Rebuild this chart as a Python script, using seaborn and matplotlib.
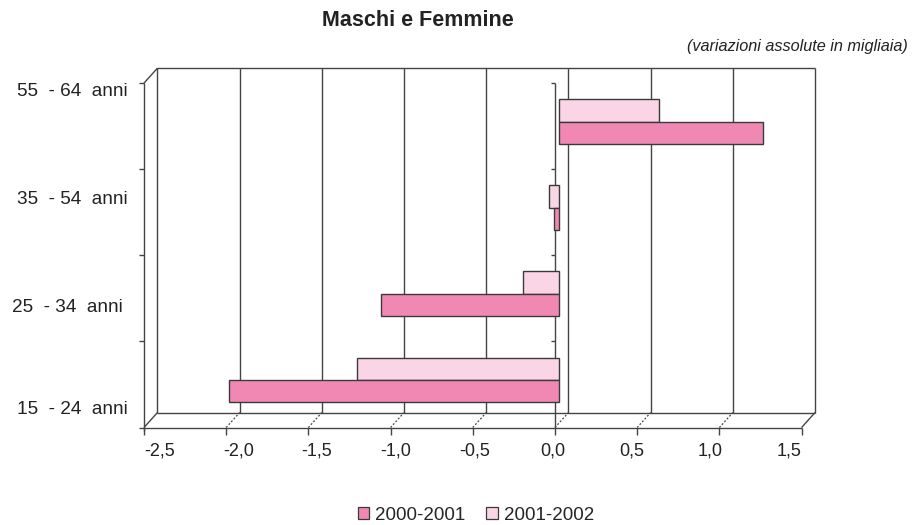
import numpy as np
import pandas as pd
import matplotlib
matplotlib.use("Agg")
import matplotlib.pyplot as plt
from matplotlib.patches import Patch
import seaborn as sns

# Age classes (top to bottom) and absolute changes in thousands
classi = ["55  - 64  anni", "35  - 54  anni", "25  - 34  anni", "15  - 24  anni"]
periodi = ["2000-2001", "2001-2002"]
var_2000_2001 = [1.24, -0.03, -1.08, -2.01]
var_2001_2002 = [0.61, -0.06, -0.22, -1.23]
x_ticks = [-2.5, -2.0, -1.5, -1.0, -0.5, 0.0, 0.5, 1.0, 1.5]
x_labels = ["-2,5", "-2,0", "-1,5", "-1,0", "-0,5", "0,0", "0,5", "1,0", "1,5"]

colori = {"2000-2001": "#F188B4", "2001-2002": "#F9D5E6"}
EDGE = "#3a3a3a"
LINE = "#444444"
TXT = "#222222"

sns.set_theme(style="white")
plt.rcParams["font.family"] = ["Liberation Sans", "DejaVu Sans"]

df = pd.DataFrame({
    "classe": classi * 2,
    "periodo": [periodi[0]] * len(classi) + [periodi[1]] * len(classi),
    "valore": var_2000_2001 + var_2001_2002,
})

W, H = 918, 525
fig = plt.figure(figsize=(W / 100, H / 100), dpi=100)
fig.patch.set_facecolor("white")

# axes box in pixels: x 130..830, y 60..440
ax = fig.add_axes([130 / W, 1 - 440 / H, 700 / W, 380 / H])

# pixel -> data helpers for the pseudo-3D frame
SX, X0 = 164.4, 559.0
SY, Y0 = 86.1, 121.7
def dx_px(p):
    return p / SX
def dy_px(p):
    return p / SY

DX, DY = dx_px(13.5), dy_px(-15.0)     # depth vector
XF, YF = -0.3 * DX, -0.3 * DY           # front plane relative to bars
XB, YB = XF + DX, YF + DY               # back plane relative to bars
XMIN, XMAX = x_ticks[0], x_ticks[-1]
YTOP, YBOT = -0.5, len(classi) - 0.5

def seg(x0, y0, x1, y1, **kw):
    kw.setdefault("color", LINE)
    kw.setdefault("lw", 1.0)
    kw.setdefault("solid_capstyle", "butt")
    ax.plot([x0, x1], [y0, y1], clip_on=False, **kw)

# back wall: vertical gridlines and top edge
for xv in x_ticks:
    seg(xv + XB, YTOP + YB, xv + XB, YBOT + YB, zorder=1)
seg(XMIN + XB, YTOP + YB, XMAX + XB, YTOP + YB, zorder=1)

# floor: back edge, front edge, side diagonals and dotted tick diagonals
seg(XMIN + XB, YBOT + YB, XMAX + XB, YBOT + YB, zorder=1)
seg(XMIN + XF, YBOT + YF, XMAX + XF, YBOT + YF, zorder=1)
for xv in x_ticks:
    if xv in (XMIN, XMAX):
        seg(xv + XF, YBOT + YF, xv + XB, YBOT + YB, zorder=1)
    else:
        seg(xv + XF, YBOT + YF, xv + XB, YBOT + YB, zorder=1,
            ls=(0, (1.5, 1.5)), lw=0.9)
    # tick marks under the front edge
    seg(xv + XF, YBOT + YF, xv + XF, YBOT + YF + dy_px(7), zorder=1)

# left wall: front vertical axis with ticks, top diagonal
seg(XMIN + XF, YTOP + YF, XMIN + XF, YBOT + YF + dy_px(3), zorder=1)
seg(XMIN + XF, YTOP + YF, XMIN + XB, YTOP + YB, zorder=1)
for k in range(len(classi) + 1):
    yv = YTOP + k + YF
    seg(XMIN + XF - dx_px(5), yv, XMIN + XF, yv, zorder=1)

# category axis at zero
seg(0 + XF, YTOP + YF, 0 + XF, YBOT + YF, zorder=1)
for k in range(len(classi)):
    yv = YTOP + k + YF
    seg(0 + XF - dx_px(4), yv, 0 + XF, yv, zorder=1)

# bars
sns.barplot(
    data=df, y="classe", x="valore", hue="periodo", orient="h",
    order=classi, hue_order=[periodi[1], periodi[0]],
    palette=colori, width=0.522, saturation=1, legend=False,
    edgecolor=EDGE, linewidth=1.0, ax=ax, zorder=3,
)

ax.set_xlim((130 - X0) / SX, (830 - X0) / SX)
ax.set_ylim((440 - Y0) / SY, (60 - Y0) / SY)
ax.set_axis_off()

# x tick labels (spread slightly narrower than the tick marks)
for xv, lab in zip(x_ticks, x_labels):
    fig.text((553 + 157.4 * xv) / W, 1 - 451 / H, lab, ha="center",
             va="center", fontsize=13, color=TXT)

# category labels
lab_pos = [(128, 92), (128, 200), (123, 307), (128, 410)]
for name, (px, py) in zip(classi, lab_pos):
    fig.text(px / W, 1 - py / H, name, ha="right", va="center",
             fontsize=13.7, color=TXT)

fig.text(418 / W, 1 - 20 / H, "Maschi e Femmine", ha="center", va="center",
         fontsize=15.5, fontweight="bold", color=TXT)
fig.text(908 / W, 1 - 46 / H, "(variazioni assolute in migliaia)",
         ha="right", va="center", fontsize=11.7, style="italic", color=TXT)

handles = [Patch(facecolor=colori[p], edgecolor=EDGE, lw=0.9) for p in periodi]
fig.legend(handles, periodi, loc="center", bbox_to_anchor=(476 / W, 1 - 515 / H),
           ncol=2, frameon=False, fontsize=13.5, handlelength=0.6,
           handleheight=0.6, handletextpad=0.35, columnspacing=1.1)

fig.savefig("out.png", dpi=100, facecolor="white")
